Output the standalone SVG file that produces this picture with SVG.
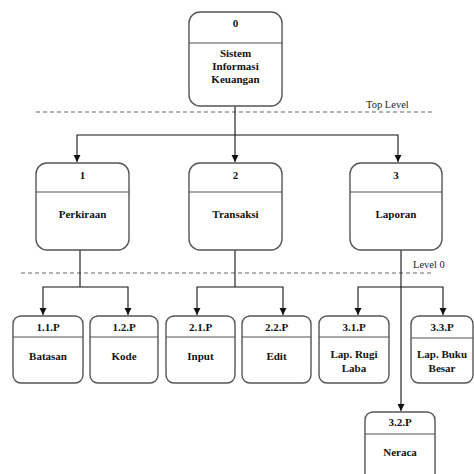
<svg xmlns="http://www.w3.org/2000/svg" width="474" height="474" viewBox="0 0 474 474">
<defs>
<marker id="arr" markerWidth="8" markerHeight="8" refX="7" refY="4" orient="auto" markerUnits="userSpaceOnUse">
<path d="M0,0.5 L7,4 L0,7.5 Z" fill="#111"/>
</marker>
<style>
.box{fill:#fff;stroke:#555;stroke-width:1.4}
.div{stroke:#555;stroke-width:1.2}
.t{font-family:"Liberation Serif","Times New Roman",serif;font-weight:bold;font-size:11px;fill:#111;text-anchor:middle}
.lvl{font-family:"Liberation Serif","Times New Roman",serif;font-size:10.5px;fill:#222}
.dash{stroke:#666;stroke-width:1.2;stroke-dasharray:4,3;fill:none}
.c{stroke:#111;stroke-width:1.1;fill:none}
.ca{stroke:#111;stroke-width:1.1;fill:none;marker-end:url(#arr)}
</style>
</defs>
<rect width="474" height="474" fill="#fff"/>

<g id="levels">
<line class="dash" x1="36" y1="112" x2="434" y2="112"/>
<text class="lvl" x="366" y="108">Top Level</text>
<line class="dash" x1="21" y1="273" x2="434" y2="273"/>
<text class="lvl" x="413" y="268">Level  0</text>
</g>

<g id="connectors">
<polyline class="c" points="235,106 235,135"/>
<polyline class="ca" points="235,135 77,135 77,162"/>
<polyline class="ca" points="235,135 235,162"/>
<polyline class="ca" points="235,135 398,135 398,162"/>
<polyline class="c" points="80,250 80,287"/>
<polyline class="ca" points="80,287 43,287 43,315"/>
<polyline class="ca" points="80,287 128,287 128,315"/>
<polyline class="c" points="235,250 235,287"/>
<polyline class="ca" points="235,287 197,287 197,315"/>
<polyline class="ca" points="235,287 283,287 283,315"/>
<polyline class="ca" points="401,250 401,411"/>
<polyline class="ca" points="401,287 358,287 358,315"/>
<polyline class="ca" points="401,287 443,287 443,315"/>
</g>

<g id="n0">
<rect class="box" x="189" y="12" width="93" height="94" rx="11"/>
<line class="div" x1="189" y1="43" x2="282" y2="43"/>
<text class="t" x="235.5" y="27">0</text>
<text class="t" x="235.5" y="57">Sistem</text>
<text class="t" x="235.5" y="70">Informasi</text>
<text class="t" x="235.5" y="83">Keuangan</text>
</g>

<g id="n1">
<rect class="box" x="36" y="163" width="93" height="87" rx="11"/>
<line class="div" x1="36" y1="192" x2="129" y2="192"/>
<text class="t" x="82.5" y="179">1</text>
<text class="t" x="82.5" y="218">Perkiraan</text>
</g>

<g id="n2">
<rect class="box" x="189" y="163" width="93" height="87" rx="11"/>
<line class="div" x1="189" y1="192" x2="282" y2="192"/>
<text class="t" x="235.5" y="179">2</text>
<text class="t" x="235.5" y="218">Transaksi</text>
</g>

<g id="n3">
<rect class="box" x="350" y="163" width="92" height="87" rx="11"/>
<line class="div" x1="350" y1="192" x2="442" y2="192"/>
<text class="t" x="396" y="179">3</text>
<text class="t" x="396" y="218">Laporan</text>
</g>

<g id="n11">
<rect class="box" x="13" y="316" width="70" height="67" rx="8"/>
<line class="div" x1="13" y1="337" x2="83" y2="337"/>
<text class="t" x="48" y="331">1.1.P</text>
<text class="t" x="48" y="360">Batasan</text>
</g>

<g id="n12">
<rect class="box" x="90" y="316" width="68" height="67" rx="8"/>
<line class="div" x1="90" y1="337" x2="158" y2="337"/>
<text class="t" x="124" y="331">1.2.P</text>
<text class="t" x="124" y="360">Kode</text>
</g>

<g id="n21">
<rect class="box" x="166" y="316" width="69" height="67" rx="8"/>
<line class="div" x1="166" y1="337" x2="235" y2="337"/>
<text class="t" x="200.5" y="331">2.1.P</text>
<text class="t" x="200.5" y="360">Input</text>
</g>

<g id="n22">
<rect class="box" x="242" y="316" width="69" height="67" rx="8"/>
<line class="div" x1="242" y1="337" x2="311" y2="337"/>
<text class="t" x="276.5" y="331">2.2.P</text>
<text class="t" x="276.5" y="360">Edit</text>
</g>

<g id="n31">
<rect class="box" x="319" y="316" width="70" height="67" rx="8"/>
<line class="div" x1="319" y1="337" x2="389" y2="337"/>
<text class="t" x="354" y="331">3.1.P</text>
<text class="t" x="354" y="358">Lap. Rugi</text>
<text class="t" x="354" y="372">Laba</text>
</g>

<g id="n33">
<rect class="box" x="411" y="316" width="62" height="67" rx="8"/>
<line class="div" x1="411" y1="338" x2="473" y2="338"/>
<text class="t" x="442" y="331">3.3.P</text>
<text class="t" x="442" y="358">Lap. Buku</text>
<text class="t" x="442" y="372">Besar</text>
</g>

<g id="n32">
<rect class="box" x="365" y="412" width="70" height="72" rx="8"/>
<line class="div" x1="365" y1="434" x2="435" y2="434"/>
<text class="t" x="400" y="426">3.2.P</text>
<text class="t" x="400" y="456">Neraca</text>
</g>
</svg>
